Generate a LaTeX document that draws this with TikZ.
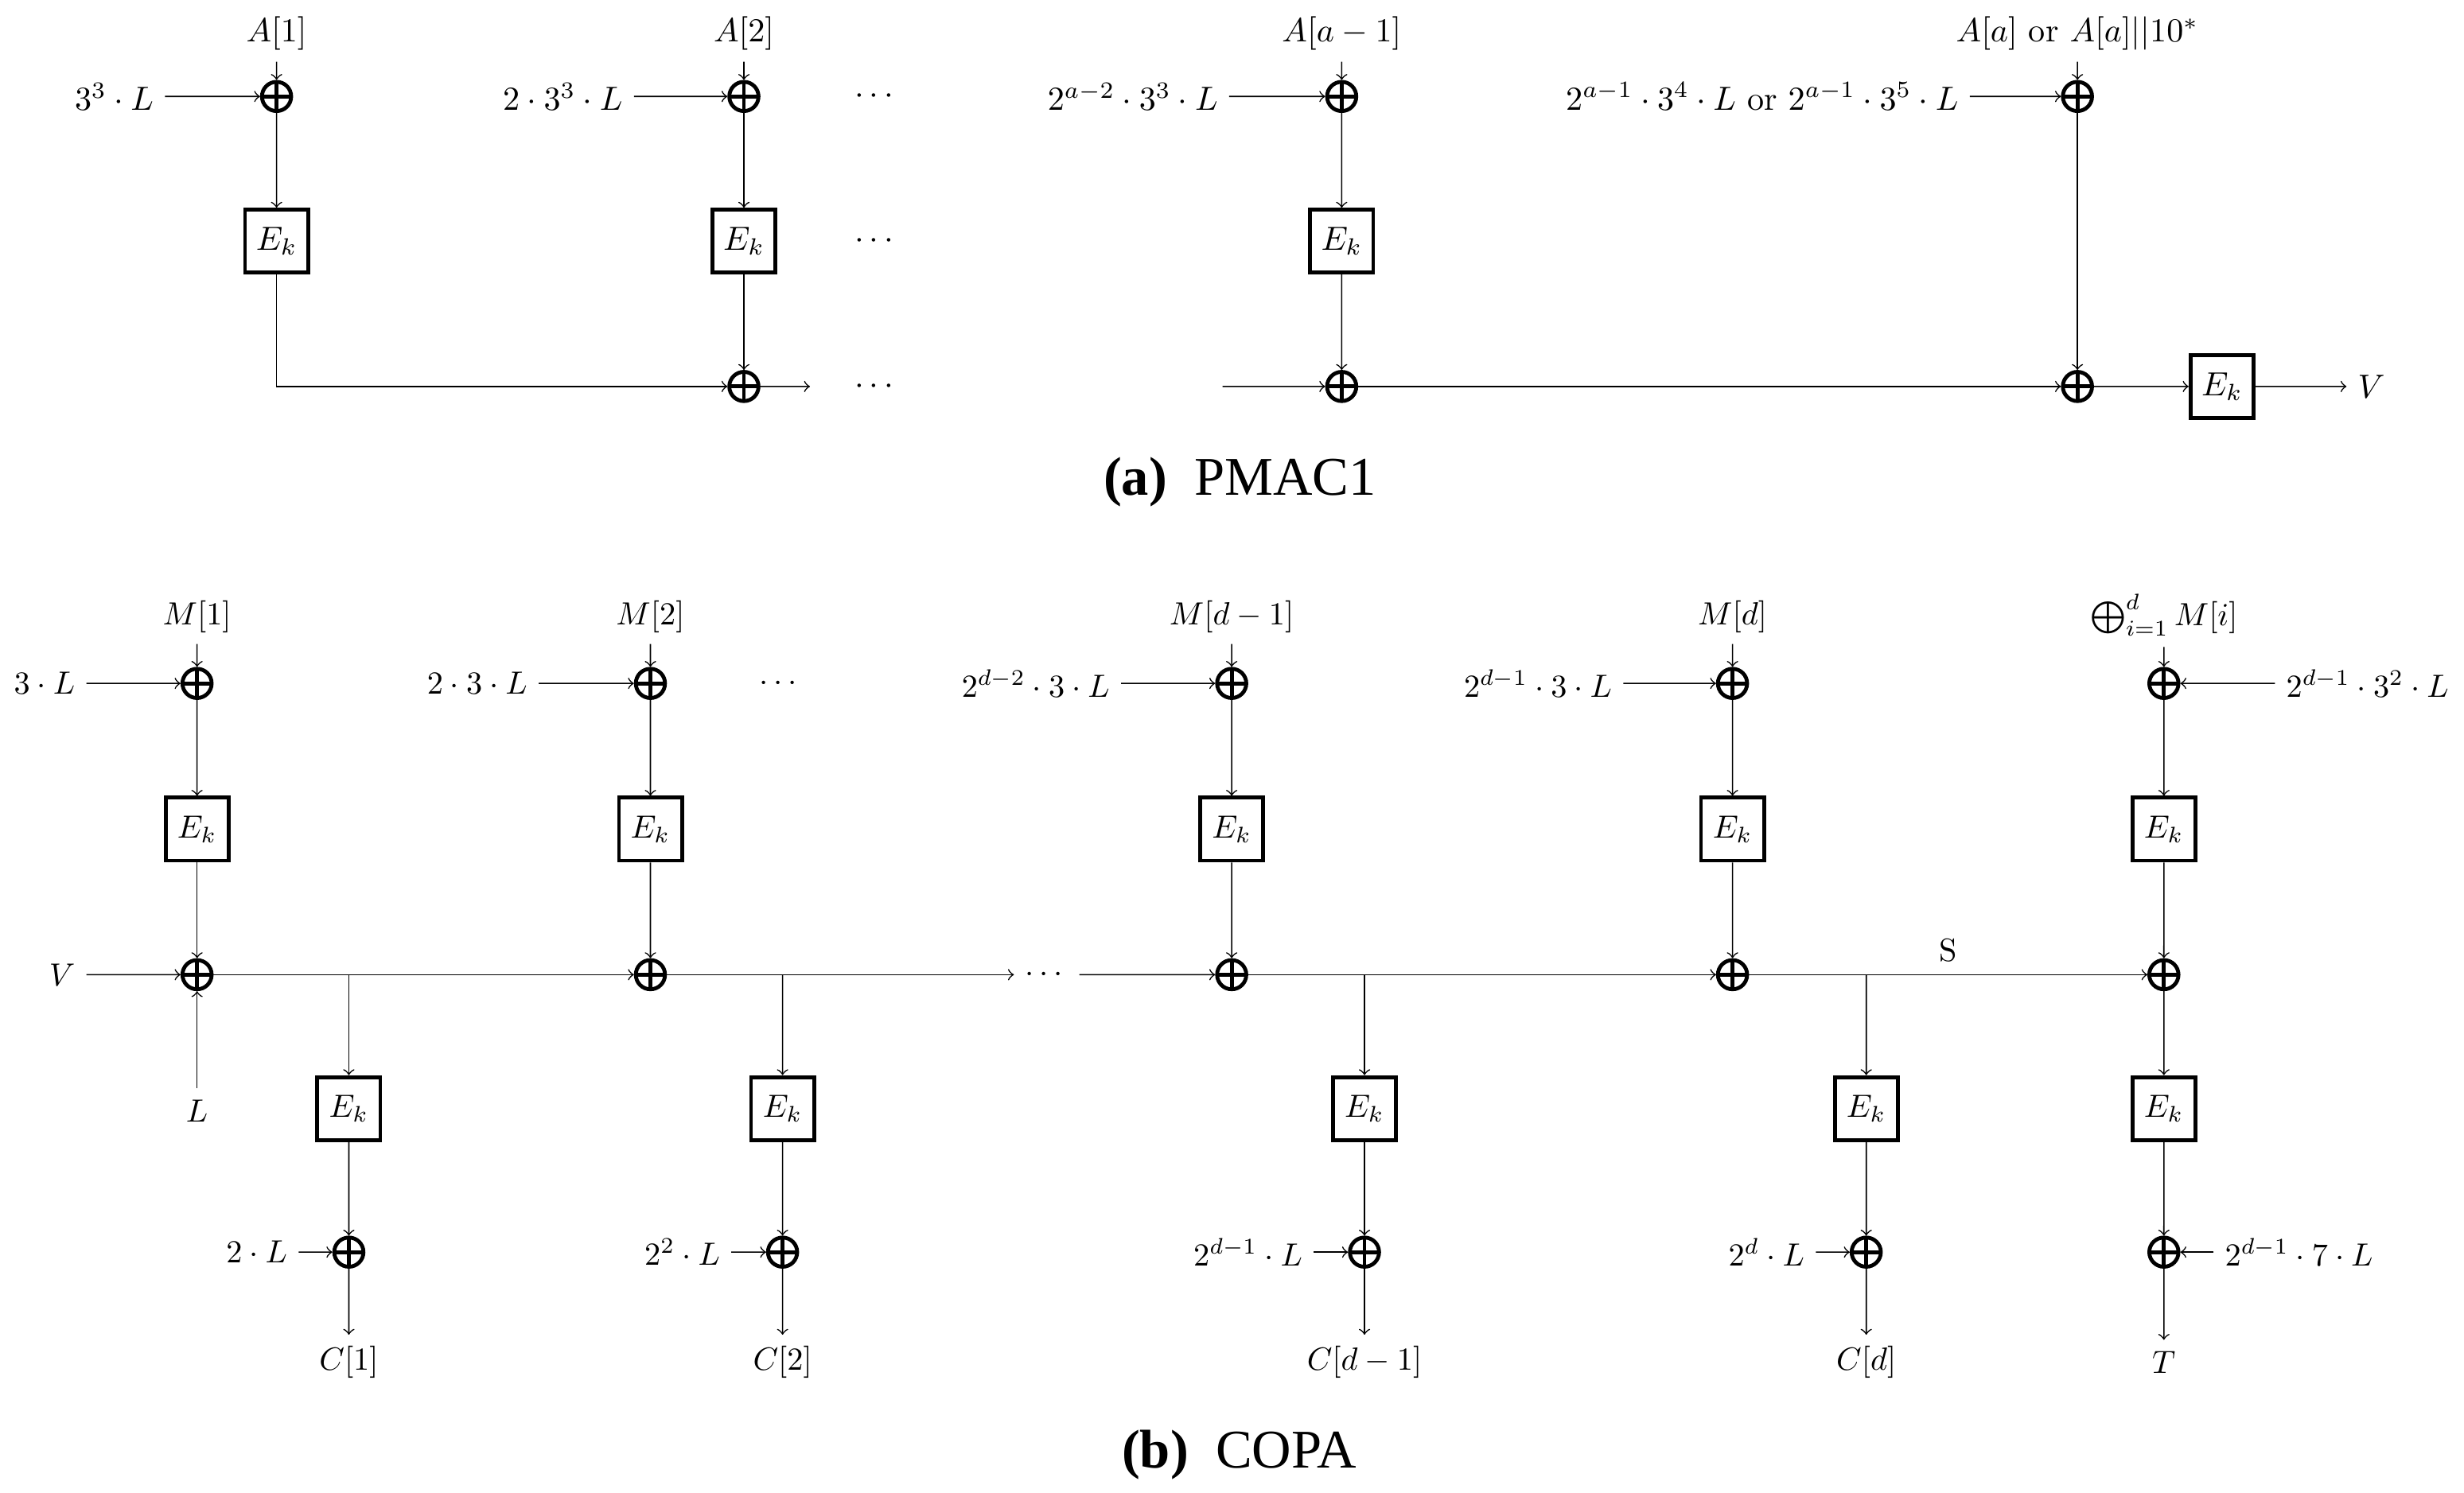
\RequirePackage{fix-cm}
\documentclass[tikz,border=0pt]{standalone}
\usepackage{amsmath}
\usepackage{amssymb}
\usepackage{fontspec}
\newfontfamily\capfont{Liberation Serif}
\usepackage{tikz}
\tikzset{
	ebox/.style    = {draw, very thick, rectangle, minimum height = 0.69cm,
		minimum width = 0.69cm},
	xor/.style     = {draw, very thick, circle, inner sep = 0pt, minimum size = 0.32cm,
		path picture = {\draw[very thick] (path picture bounding box.north) -- (path picture bounding box.south)
			(path picture bounding box.west) -- (path picture bounding box.east);}},
	input/.style   = {coordinate}, % free start
	output/.style  = {coordinate}, % free end
	subcap/.style  = {font = \capfont\fontsize{17}{20}\selectfont}
}
\newcommand{\enc}{$E_k$}

\begin{document}
\begin{tikzpicture}[auto, >=to, scale = 0.1722]
\useasboundingbox (0,0) rectangle (156.8,95);
% (a) PMAC1
\draw[font = \fontsize{10.45}{12.5}\selectfont]
node at (17.6,92.85) (a1) {$A[1]$}
node at (47.34,92.85) (a2) {$A[2]$}
node at (85.38,92.85) (a3) {$A[a-1]$}
node at (132.2,92.85) (a4) {$A[a]$ or $A[a]||10^*$}
node at (10.5,88.86) [anchor=east] (k1) {$3^3\cdot L$}
node at (40.34,88.86) [anchor=east] (k2) {$2\cdot 3^3\cdot L$}
node at (78.22,88.86) [anchor=east] (k3) {$2^{a-2}\cdot 3^3\cdot L$}
node at (125.35,88.86) [anchor=east] (k4) {$2^{a-1}\cdot 3^4\cdot L$ or $2^{a-1}\cdot 3^5\cdot L$}
node at (17.6,88.86) [xor] (x1) {}
node at (47.34,88.86) [xor] (x2) {}
node at (85.38,88.86) [xor] (x3) {}
node at (132.2,88.86) [xor] (x4) {}
node at (55.8,88.86) (d1) {$\cdots$}
node at (17.6,79.65) [ebox] (e1) {\enc}
node at (47.34,79.65) [ebox] (e2) {\enc}
node at (85.38,79.65) [ebox] (e3) {\enc}
node at (55.8,79.65) (d2) {$\cdots$}
node at (47.34,70.4) [xor] (y2) {}
node at (85.38,70.4) [xor] (y3) {}
node at (132.2,70.4) [xor] (y4) {}
node at (141.4,70.4) [ebox] (e5) {\enc}
node at (150.9,70.4) (vt) {$V$}
node at (55.8,70.4) (d3) {$\cdots$}
node at (51.54,70.4) [output] (o2) {}
node at (77.8,70.4) [input] (i3) {};

\draw node at (78.9,64.3) [subcap] (capa) {\textbf{(a)}\hspace{0.5em}PMAC1};

\draw[->](a1)--(x1);
\draw[->](k1)--(x1);
\draw[->](x1)--(e1);
\draw[->](e1)|-(y2);
\draw[->](a2)--(x2);
\draw[->](k2)--(x2);
\draw[->](x2)--(e2);
\draw[->](e2)--(y2);
\draw[->](y2)--(o2);
\draw[->](a3)--(x3);
\draw[->](k3)--(x3);
\draw[->](x3)--(e3);
\draw[->](e3)--(y3);
\draw[->](i3)--(y3);
\draw[->](y3)--(y4);
\draw[->](a4)--(x4);
\draw[->](k4)--(x4);
\draw[->](x4)--(y4);
\draw[->](y4)--(e5);
\draw[->](e5)--(vt);

% (b) COPA
\draw
node at (12.54,55.75) (m1) {$M[1]$}
node at (41.39,55.75) (m2) {$M[2]$}
node at (78.38,55.75) (m3) {$M[d-1]$}
node at (110.25,55.75) (m4) {$M[d]$}
node at (137.7,55.86) (m5) {$\bigoplus_{i=1}^d M[i]$}
node at (5.5,51.5) [anchor=east] (t1) {$3\cdot L$}
node at (34.28,51.5) [anchor=east] (t2) {$2\cdot 3\cdot L$}
node at (71.34,51.5) [anchor=east] (t3) {$2^{d-2}\cdot 3\cdot L$}
node at (103.3,51.5) [anchor=east] (t4) {$2^{d-1}\cdot 3\cdot L$}
node at (144.77,51.5) [anchor=west] (t5) {$2^{d-1}\cdot 3^2\cdot L$}
node at (12.54,51.5) [xor] (p1) {}
node at (41.39,51.5) [xor] (p2) {}
node at (78.38,51.5) [xor] (p3) {}
node at (110.25,51.5) [xor] (p4) {}
node at (137.7,51.5) [xor] (p5) {}
node at (49.7,51.5) (dt) {$\cdots$}
node at (12.54,42.22) [ebox] (f1) {\enc}
node at (41.39,42.22) [ebox] (f2) {\enc}
node at (78.38,42.22) [ebox] (f3) {\enc}
node at (110.25,42.22) [ebox] (f4) {\enc}
node at (137.7,42.22) [ebox] (f5) {\enc}
node at (5.5,32.96) [anchor=east] (vb) {$V$}
node at (12.54,32.96) [xor] (q1) {}
node at (41.39,32.96) [xor] (q2) {}
node at (78.38,32.96) [xor] (q3) {}
node at (110.25,32.96) [xor] (q4) {}
node at (137.7,32.96) [xor] (q5) {}
node at (66.6,32.96) (dm) {$\cdots$}
node at (124.0,34.5) (sl) {S}
node at (22.2,32.96) [input] (s1) {}
node at (49.8,32.96) [input] (s2) {}
node at (86.83,32.96) [input] (s3) {}
node at (118.76,32.96) [input] (s4) {}
node at (12.54,24.3) (lb) {$L$}
node at (22.2,24.44) [ebox] (g1) {\enc}
node at (49.8,24.44) [ebox] (g2) {\enc}
node at (86.83,24.44) [ebox] (g3) {\enc}
node at (118.76,24.44) [ebox] (g4) {\enc}
node at (137.7,24.44) [ebox] (g5) {\enc}
node at (22.2,15.3) [xor] (r1) {}
node at (49.8,15.3) [xor] (r2) {}
node at (86.83,15.3) [xor] (r3) {}
node at (118.76,15.3) [xor] (r4) {}
node at (137.7,15.3) [xor] (r5) {}
node at (19.0,15.3) [anchor=east] (u1) {$2\cdot L$}
node at (46.54,15.3) [anchor=east] (u2) {$2^2\cdot L$}
node at (83.6,15.3) [anchor=east] (u3) {$2^{d-1}\cdot L$}
node at (115.55,15.3) [anchor=east] (u4) {$2^d\cdot L$}
node at (140.87,15.3) [anchor=west] (u5) {$2^{d-1}\cdot 7\cdot L$}
node at (22.2,8.3) (c1) {$C[1]$}
node at (49.8,8.3) (c2) {$C[2]$}
node at (86.83,8.3) (c3) {$C[d-1]$}
node at (118.76,8.3) (c4) {$C[d]$}
node at (137.7,8.3) (c5) {$T$};

\draw node at (78.85,2.4) [subcap] (capb) {\textbf{(b)}\hspace{0.5em}COPA};

\draw[->](m1)--(p1);
\draw[->](t1)--(p1);
\draw[->](p1)--(f1);
\draw[->](f1)--(q1);
\draw[->](vb)--(q1);
\draw[->](lb)--(q1);
\draw[->](q1)--(q2);
\draw[->](s1)--(g1);
\draw[->](g1)--(r1);
\draw[->](u1)--(r1);
\draw[->](r1)--(c1);
\draw[->](m2)--(p2);
\draw[->](t2)--(p2);
\draw[->](p2)--(f2);
\draw[->](f2)--(q2);
\draw[->](q2)--(dm);
\draw[->](s2)--(g2);
\draw[->](g2)--(r2);
\draw[->](u2)--(r2);
\draw[->](r2)--(c2);
\draw[->](m3)--(p3);
\draw[->](t3)--(p3);
\draw[->](p3)--(f3);
\draw[->](f3)--(q3);
\draw[->](dm)--(q3);
\draw[->](q3)--(q4);
\draw[->](s3)--(g3);
\draw[->](g3)--(r3);
\draw[->](u3)--(r3);
\draw[->](r3)--(c3);
\draw[->](m4)--(p4);
\draw[->](t4)--(p4);
\draw[->](p4)--(f4);
\draw[->](f4)--(q4);
\draw[->](q4)--(q5);
\draw[->](s4)--(g4);
\draw[->](g4)--(r4);
\draw[->](u4)--(r4);
\draw[->](r4)--(c4);
\draw[->](m5)--(p5);
\draw[->](t5)--(p5);
\draw[->](p5)--(f5);
\draw[->](f5)--(q5);
\draw[->](q5)--(g5);
\draw[->](g5)--(r5);
\draw[->](u5)--(r5);
\draw[->](r5)--(c5);
\end{tikzpicture}
\end{document}
